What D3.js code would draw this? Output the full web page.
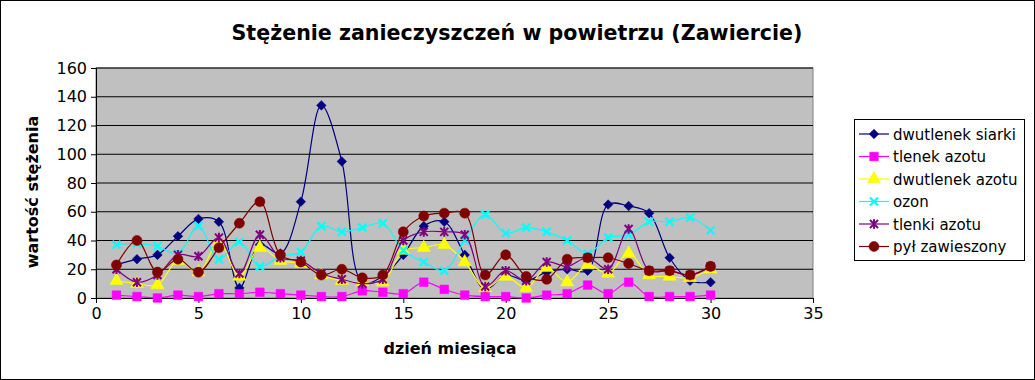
<!DOCTYPE html>
<html>
  <head>
    <meta charset="utf-8">
    <title>Stężenie</title>
    <script src="https://cdn.jsdelivr.net/npm/d3@7"></script>
    <style>
      body { margin: 0; background: #fff; }
      text { font-family: "DejaVu Sans", sans-serif; }
    </style>
  </head>
  <body>
    <svg width="1035" height="380" id="mainsvg"></svg>
    <script>
      const days = d3.range(1, 31);
      const xTicks = [0, 5, 10, 15, 20, 25, 30, 35];
      const yTicks = [0, 20, 40, 60, 80, 100, 120, 140, 160];

      const seriesNames = ['dwutlenek siarki', 'tlenek azotu', 'dwutlenek azotu', 'ozon', 'tlenki azotu', 'pył zawieszony'];
      const so2  = [23, 27, 30, 43, 55, 53, 7, 37, 31, 67, 134, 95, 11, 15, 30, 50, 53, 30, 6, 16, 12, 18, 20, 19, 65, 64, 59, 28, 12, 11];
      const no   = [2, 1, 0, 2, 1, 3, 3, 4, 3, 2, 1, 1, 5, 4, 3, 11, 6, 2, 1, 1, 0, 2, 3, 9, 3, 11, 1, 1, 1, 2];
      const no2  = [12, 10, 9, 26, 18, 39, 15, 35, 26, 24, 16, 12, 11, 11, 33, 35, 37, 25, 7, 15, 7, 21, 11, 23, 17, 31, 16, 15, 14, 20];
      const o3   = [37, 38, 36, 31, 50, 27, 39, 22, 29, 32, 50, 46, 49, 52, 33, 25, 19, 40, 58, 45, 49, 46, 40, 31, 42, 44, 53, 53, 56, 47];
      const nox  = [20, 11, 16, 30, 29, 42, 17, 44, 28, 26, 17, 13, 10, 13, 40, 46, 46, 44, 8, 19, 12, 25, 22, 28, 20, 48, 19, 19, 16, 22];
      const pm   = [23, 40, 18, 27, 18, 35, 52, 67, 30, 25, 16, 20, 14, 16, 46, 57, 59, 59, 16, 30, 15, 13, 27, 28, 28, 24, 19, 19, 16, 22];

      const seriesValues = [so2, no, no2, o3, nox, pm];
      const colors = ['#000080', '#FF00FF', '#FFFF00', '#00FFFF', '#800080', '#800000'];
      const markers = ['diamond', 'square', 'triangle', 'cross', 'star', 'circle'];

      const svg = d3.select('#mainsvg');
      const width = +svg.attr('width');
      const height = +svg.attr('height');
      const plot = {left: 96, right: 813, top: 68, bottom: 298};

      // outer border
      svg.append('rect').attr('x', 0.5).attr('y', 0.5)
        .attr('width', width - 1).attr('height', height - 1)
        .attr('fill', '#fff').attr('stroke', '#000');

      const xScale = d3.scaleLinear().domain([0, 35]).range([plot.left, plot.right]);
      const yScale = d3.scaleLinear().domain([0, 160]).range([plot.bottom, plot.top]);

      svg.append('rect')
        .attr('x', plot.left).attr('y', plot.top)
        .attr('width', plot.right - plot.left).attr('height', plot.bottom - plot.top)
        .attr('fill', '#C0C0C0').attr('stroke', '#808080');

      // gridlines + y axis
      const yAxis = d3.axisLeft(yScale).tickValues(yTicks)
        .tickSize(5).tickPadding(4);
      const yG = svg.append('g').attr('transform', `translate(${plot.left},0)`).call(yAxis);
      yG.select('.domain').attr('stroke', '#000');
      yG.selectAll('text').attr('font-size', 16).attr('fill', '#000')
        .style('font-family', '"DejaVu Sans", sans-serif');

      svg.append('g').selectAll('line').data(yTicks.slice(1)).join('line')
        .attr('x1', plot.left).attr('x2', plot.right)
        .attr('y1', d => yScale(d)).attr('y2', d => yScale(d))
        .attr('stroke', '#000').attr('stroke-width', 1.2);

      const xAxis = d3.axisBottom(xScale).tickValues(xTicks)
        .tickSize(5).tickPadding(5);
      const xG = svg.append('g').attr('transform', `translate(0,${plot.bottom})`).call(xAxis);
      xG.select('.domain').attr('stroke', '#000');
      xG.selectAll('text').attr('font-size', 16).attr('fill', '#000')
        .style('font-family', '"DejaVu Sans", sans-serif');

      // titles
      svg.append('text').attr('x', 517).attr('y', 40)
        .attr('text-anchor', 'middle').attr('font-size', 20.6).attr('font-weight', 'bold')
        .text('Stężenie zanieczyszczeń w powietrzu (Zawiercie)');
      svg.append('text').attr('x', 450).attr('y', 354)
        .attr('text-anchor', 'middle').attr('font-size', 16).attr('font-weight', 'bold')
        .text('dzień miesiąca');
      svg.append('text')
        .attr('transform', 'translate(38,192) rotate(-90)')
        .attr('text-anchor', 'middle').attr('font-size', 16).attr('font-weight', 'bold')
        .text('wartość stężenia');

      const drawMarker = function(sel, type, color, s){
        if(type === 'cross'){
          sel.append('path')
            .attr('d', `M${-s},${-s}L${s},${s}M${-s},${s}L${s},${-s}`)
            .attr('stroke', color).attr('stroke-width', 2.2).attr('fill', 'none');
        } else if(type === 'star'){
          sel.append('path')
            .attr('d', `M${-s},${-s}L${s},${s}M${-s},${s}L${s},${-s}M0,${-s*1.2}L0,${s*1.2}`)
            .attr('stroke', color).attr('stroke-width', 2).attr('fill', 'none');
        } else if(type === 'diamond'){
          const r = s + 0.8;
          sel.append('path')
            .attr('d', `M0,${-r}L${r},0L0,${r}L${-r},0Z`)
            .attr('fill', color).attr('stroke', color).attr('stroke-width', 0.5);
        } else {
          const sym = {square: d3.symbolSquare,
                       triangle: d3.symbolTriangle, circle: d3.symbolCircle}[type];
          const size = {square: 75, triangle: 75, circle: 80}[type];
          sel.append('path').attr('d', d3.symbol(sym, size)())
            .attr('fill', color).attr('stroke', color).attr('stroke-width', 0.5);
        }
      };

      const line = d3.line()
        .x((d, i) => xScale(days[i]))
        .y(d => yScale(d))
        .curve(d3.curveCatmullRom.alpha(0.5));

      seriesValues.forEach((vals, k) => {
        const g = svg.append('g');
        g.append('path').datum(vals)
          .attr('d', line).attr('fill', 'none')
          .attr('stroke', colors[k]).attr('stroke-width', 1.2);
        vals.forEach((v, i) => {
          const mg = g.append('g').attr('transform', `translate(${xScale(days[i])},${yScale(v)})`);
          drawMarker(mg, markers[k], colors[k], 4);
        });
      });

      // legend
      const lg = svg.append('g');
      lg.append('rect').attr('x', 854.5).attr('y', 119.5)
        .attr('width', 170).attr('height', 141)
        .attr('fill', '#fff').attr('stroke', '#000');
      seriesNames.forEach((name, k) => {
        const y = 134 + k * 22.5;
        lg.append('line').attr('x1', 859).attr('x2', 889).attr('y1', y).attr('y2', y)
          .attr('stroke', colors[k]).attr('stroke-width', 1.2);
        const mg = lg.append('g').attr('transform', `translate(874,${y})`);
        drawMarker(mg, markers[k], colors[k], 4);
        lg.append('text').attr('x', 893).attr('y', y + 5.5)
          .attr('font-size', 15).text(name);
      });
    </script>
  </body>
</html>
